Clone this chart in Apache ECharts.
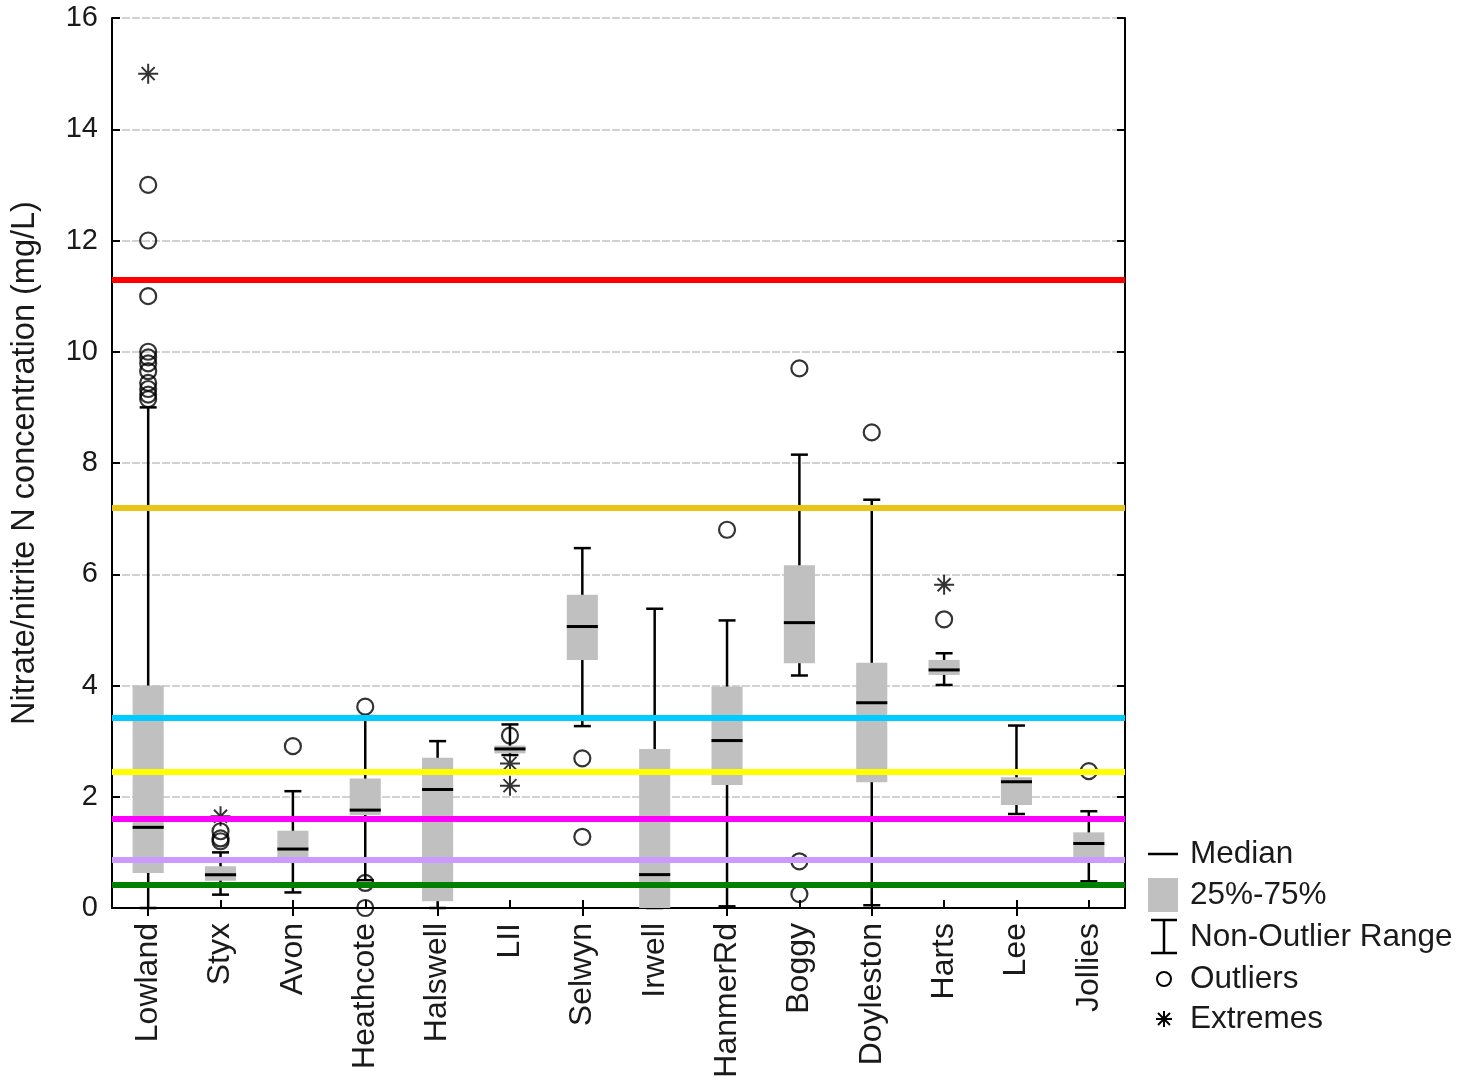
<!DOCTYPE html>
<html>
<head>
<meta charset="utf-8">
<script src="https://cdn.jsdelivr.net/npm/echarts@6/dist/echarts.min.js"></script>
<style>
html,body{margin:0;padding:0;background:#fff;}
#chart{width:1475px;height:1078px;}
</style>
</head>
<body>
<div id="chart"></div>
<script>
// ---- data ----
const categories = ['Lowland','Styx','Avon','Heathcote','Halswell','LII','Selwyn','Irwell','HanmerRd','Boggy','Doyleston','Harts','Lee','Jollies'];
const whiskerLow  = [0,    0.24, 0.28, 0.50, 0,    2.75, 3.27, 0,    0.03, 4.18, 0.05, 4.01, 1.69, 0.48];
const q1          = [0.63, 0.49, 0.91, 1.67, 0.12, 2.78, 4.46, 0,    2.21, 4.40, 2.26, 4.19, 1.85, 0.90];
const medians     = [1.45, 0.60, 1.06, 1.76, 2.13, 2.86, 5.06, 0.60, 3.01, 5.13, 3.69, 4.28, 2.27, 1.16];
const q3          = [4.00, 0.75, 1.39, 2.33, 2.70, 2.92, 5.63, 2.86, 3.98, 6.16, 4.41, 4.46, 2.35, 1.36];
const whiskerHigh = [9.00, 1.00, 2.10, 3.45, 3.00, 3.30, 6.47, 5.38, 5.17, 8.15, 7.34, 4.58, 3.28, 1.74];
const outliers = [
  ['Lowland',9.15],['Lowland',9.23],['Lowland',9.33],['Lowland',9.44],['Lowland',9.65],['Lowland',9.79],['Lowland',9.9],['Lowland',10.0],
  ['Lowland',11.0],['Lowland',12.0],['Lowland',13.0],
  ['Styx',1.2],['Styx',1.25],['Styx',1.38],
  ['Avon',2.91],
  ['Heathcote',3.62],['Heathcote',0.45],['Heathcote',0.0],
  ['LII',3.1],
  ['Selwyn',2.69],['Selwyn',1.28],
  ['HanmerRd',6.80],
  ['Boggy',9.7],['Boggy',0.84],['Boggy',0.25],
  ['Doyleston',8.55],
  ['Harts',5.19],
  ['Jollies',2.46]
];
const extremes = [
  ['Lowland',15.0],['Styx',1.65],['LII',2.6],['LII',2.2],['Harts',5.81]
];
const refValues = [11.3, 7.2, 3.42, 2.45, 1.6, 0.87, 0.42];
const refColors = ['#ff0000','#e8c416','#00ccff','#ffff00','#ff00ff','#cc99ff','#008000'];
const legendLabels = ['Median','25%-75%','Non-Outlier Range','Outliers','Extremes'];

// ---- styles ----
const FONT = '"Liberation Sans", Arial, sans-serif';
const BOX_GRAY = '#c0c0c0';
const ASTERISK = 'path://M0,10 L20,10 M10,0 L10,20 M3.5,3.5 L16.5,16.5 M16.5,3.5 L3.5,16.5';

const boxData = categories.map((c,i)=>[i, whiskerLow[i], q1[i], medians[i], q3[i], whiskerHigh[i]]);

function renderBox(params, api){
  const i = api.value(0);
  const band = api.size([1,0])[0];
  const bw = band*0.43, cw = 17;
  const pLow = api.coord([i, api.value(1)]);
  const pQ1 = api.coord([i, api.value(2)]);
  const pMed = api.coord([i, api.value(3)]);
  const pQ3 = api.coord([i, api.value(4)]);
  const pHigh = api.coord([i, api.value(5)]);
  const x = pMed[0];
  const ls = {stroke:'#000', lineWidth:2.5};
  return {type:'group', children:[
    {type:'line', shape:{x1:x,y1:pLow[1],x2:x,y2:pHigh[1]}, style:ls},
    {type:'line', shape:{x1:x-cw/2,y1:pHigh[1],x2:x+cw/2,y2:pHigh[1]}, style:ls},
    {type:'line', shape:{x1:x-cw/2,y1:pLow[1],x2:x+cw/2,y2:pLow[1]}, style:ls},
    {type:'rect', shape:{x:x-bw/2,y:pQ3[1],width:bw,height:pQ1[1]-pQ3[1]}, style:{fill:BOX_GRAY}},
    {type:'line', shape:{x1:x-bw/2,y1:pMed[1],x2:x+bw/2,y2:pMed[1]}, style:{stroke:'#000', lineWidth:3}}
  ]};
}

const chart = echarts.init(document.getElementById('chart'), null, {renderer:'canvas'});

const catAxisBase = {
  type:'category', data:categories, boundaryGap:true,
  axisLine:{show:true, lineStyle:{color:'#000', width:2}},
  axisTick:{show:true, inside:true, alignWithLabel:true, length:8, lineStyle:{color:'#000', width:2}},
  splitLine:{show:false}
};
const valAxisBase = {
  type:'value', min:0, max:16, interval:2,
  axisLine:{show:true, lineStyle:{color:'#000', width:2}},
  axisTick:{show:true, inside:true, length:8, lineStyle:{color:'#000', width:2}}
};

const legendY = [854, 895, 937, 979, 1019];
const ax = 1164, ay = legendY[4], ar = 8, ad = 6;

chart.setOption({
  animation:false,
  backgroundColor:'#fff',
  grid:{left:112, right:350, top:18, bottom:170, containLabel:false, outerBoundsMode:'none'},
  xAxis:[
    Object.assign({}, catAxisBase, {position:'bottom',
      axisLabel:{show:true, rotate:90, margin:15, fontSize:32, color:'#1a1a1a', fontFamily:FONT, interval:0}}),
    Object.assign({}, catAxisBase, {position:'top', axisLabel:{show:false}})
  ],
  yAxis:[
    Object.assign({}, valAxisBase, {position:'left',
      name:'Nitrate/nitrite N concentration (mg/L)', nameLocation:'middle', nameGap:70,
      nameTextStyle:{fontSize:32.5, color:'#1a1a1a', fontFamily:FONT},
      axisLabel:{show:true, margin:14, fontSize:29, color:'#1a1a1a', fontFamily:FONT},
      splitLine:{show:true, lineStyle:{color:'#c4c4c4', width:1.5, type:[8,2]}}}),
    Object.assign({}, valAxisBase, {position:'right', axisLabel:{show:false}, splitLine:{show:false}})
  ],
  series:[
    {type:'custom', name:'boxes', renderItem:renderBox, data:boxData, xAxisIndex:0, yAxisIndex:0,
     encode:{x:0, y:[1,2,3,4,5]}, z:2, silent:true, clip:false},
    {type:'scatter', name:'Outliers', data:outliers, symbol:'circle', symbolSize:16, z:3, silent:true,
     itemStyle:{color:'rgba(0,0,0,0)', borderColor:'#000', borderWidth:2.2}},
    {type:'scatter', name:'Extremes', data:extremes, symbol:ASTERISK, symbolSize:20, z:3, silent:true,
     itemStyle:{color:'rgba(0,0,0,0)', borderColor:'#000', borderWidth:2}},
    {type:'scatter', name:'refs', data:[], z:5, silent:true,
     markLine:{silent:true, symbol:['none','none'], label:{show:false}, animation:false,
       data: refValues.map((v,k)=>({yAxis:v, lineStyle:{color:refColors[k], width:6, type:'solid'}}))}}
  ],
  graphic:[
    {type:'line', shape:{x1:1148,y1:legendY[0],x2:1178,y2:legendY[0]}, style:{stroke:'#000', lineWidth:2.5}},
    {type:'rect', shape:{x:1148,y:legendY[1]-17,width:30,height:34}, style:{fill:BOX_GRAY}},
    {type:'line', shape:{x1:1151,y1:legendY[2]-17,x2:1177,y2:legendY[2]-17}, style:{stroke:'#000', lineWidth:2.5}},
    {type:'line', shape:{x1:1164,y1:legendY[2]-17,x2:1164,y2:legendY[2]+16}, style:{stroke:'#000', lineWidth:2.5}},
    {type:'line', shape:{x1:1151,y1:legendY[2]+16,x2:1177,y2:legendY[2]+16}, style:{stroke:'#000', lineWidth:2.5}},
    {type:'circle', shape:{cx:1164, cy:legendY[3], r:7}, style:{fill:'none', stroke:'#000', lineWidth:2}},
    {type:'line', shape:{x1:ax-ar,y1:ay,x2:ax+ar,y2:ay}, style:{stroke:'#000', lineWidth:2}},
    {type:'line', shape:{x1:ax,y1:ay-ar,x2:ax,y2:ay+ar}, style:{stroke:'#000', lineWidth:2}},
    {type:'line', shape:{x1:ax-ad,y1:ay-ad,x2:ax+ad,y2:ay+ad}, style:{stroke:'#000', lineWidth:2}},
    {type:'line', shape:{x1:ax+ad,y1:ay-ad,x2:ax-ad,y2:ay+ad}, style:{stroke:'#000', lineWidth:2}}
  ].concat(legendLabels.map((t,k)=>({type:'text', x:1190, y:legendY[k],
      style:{text:t, fontSize:31.5, fontFamily:FONT, fill:'#1a1a1a', textVerticalAlign:'middle', textAlign:'left'}})))
});
</script>
</body>
</html>
